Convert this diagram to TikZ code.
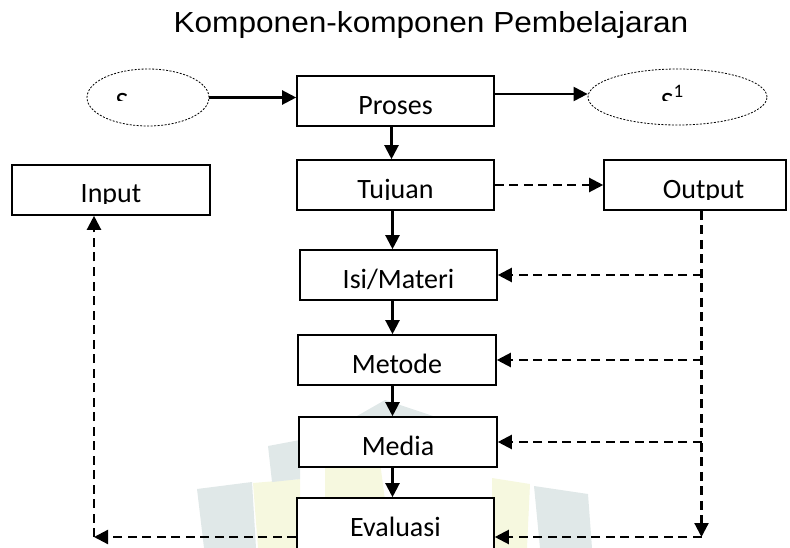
\documentclass[tikz,border=0pt]{standalone}
\usepackage{fontspec}
\setmainfont{Carlito}
\newfontfamily\titlefont{Liberation Sans}
\usetikzlibrary{arrows.meta,shapes.geometric}
\definecolor{wmgrey}{HTML}{E0E8E8}
\definecolor{wmyellow}{HTML}{F6F8DF}
\newcommand\cliplabel[4]{%
  \clip ([yshift=#1]path picture bounding box.south west) rectangle (path picture bounding box.north east);
  \node[lbl, anchor=base] at ([xshift=#3, yshift=#2]path picture bounding box.south) {#4};}
\begin{document}
\begin{tikzpicture}[x=1pt,y=-1pt,
  box/.style={draw, fill=white, line width=1.6pt, inner sep=0pt, minimum height=50pt},
  oval/.style={draw, ellipse, line width=0.8pt, dash pattern=on 2pt off 1.5pt, inner sep=0pt},
  lbl/.style={font=\fontsize{28}{30}\selectfont, inner sep=0pt},
  arr/.style={line width=2.2pt, -{Triangle[length=14pt,width=14pt]}},
  darr/.style={arr, dash pattern=on 9pt off 5.5pt},
  wmg/.style={fill=wmgrey, draw=none},
  wmy/.style={fill=wmyellow, draw=none}
]
\useasboundingbox (0,0) rectangle (790,548);
% faint watermark in the background
\fill[wmg] (197,489) -- (252,482) -- (256,548) -- (204,548) -- cycle;
\fill[wmy] (253,483) -- (300,479) -- (300,548) -- (258,548) -- cycle;
\fill[wmg] (268,446) -- (300,440) -- (300,479) -- (272,482) -- cycle;
\fill[wmg] (350,420) -- (385,400) -- (445,420) -- cycle;
\fill[wmy] (325,465) -- (380,462) -- (385,500) -- (325,500) -- cycle;
\fill[wmy] (492,478) -- (530,484) -- (527,548) -- (492,548) -- cycle;
\fill[wmg] (534,486) -- (588,494) -- (592,548) -- (540,548) -- cycle;

\node[font=\titlefont\fontsize{29}{32}\selectfont, anchor=base, xscale=1.09, inner sep=0pt] (title) at (431,32.3) {Komponen-komponen Pembelajaran};

\node[oval, minimum width=122pt, minimum height=57pt, path picture={\cliplabel{25pt}{14pt}{-26pt}{S}}] (s) at (148,97.5) {};
\node[oval, minimum width=179pt, minimum height=56pt, path picture={\cliplabel{24pt}{13pt}{-5.5pt}{S\raisebox{14pt}{\fontsize{19}{20}\selectfont 1}}}] (s1) at (677.5,97) {};

\node[box, minimum width=197pt, path picture={\cliplabel{10.5pt}{11.5pt}{0pt}{Proses}}] (proses) at (395.5,101) {};
\node[box, minimum width=197pt, path picture={\cliplabel{10.5pt}{11.5pt}{0pt}{Tujuan}}] (tujuan) at (395.5,185) {};
\node[box, minimum width=198pt, path picture={\cliplabel{11.5pt}{12pt}{0pt}{Input}}] (input) at (111,190) {};
\node[box, minimum width=182pt, path picture={\cliplabel{10.5pt}{11.5pt}{8.5pt}{Output}}] (output) at (695,185) {};
\node[box, minimum width=197pt, path picture={\cliplabel{10.5pt}{11.5pt}{0pt}{Isi/Materi}}] (isi) at (398.5,275) {};
\node[box, minimum width=198pt, path picture={\cliplabel{10.5pt}{11.5pt}{0pt}{Metode}}] (metode) at (397,360) {};
\node[box, minimum width=198pt, path picture={\cliplabel{10.5pt}{11.5pt}{0pt}{Media}}] (media) at (398,442) {};
\node[box, minimum width=197pt, minimum height=51pt, path picture={\cliplabel{10.5pt}{12.5pt}{0pt}{Evaluasi}}] (evaluasi) at (395.5,523.5) {};

% solid connectors
\draw[arr] (s.east) -- (s.east -| proses.west);
\coordinate (p1) at ([yshift=7pt]proses.east);
\draw[arr] (p1) -- (p1 -| s1.west);
\coordinate (cx) at (391.5,0);
\coordinate (cy) at (392.5,0);
\draw[arr] (cx |- proses.south) -- (cx |- tujuan.north);
\draw[arr] (cy |- tujuan.south) -- (cy |- isi.north);
\draw[arr] (cy |- isi.south) -- (cy |- metode.north);
\draw[arr] (cy |- metode.south) -- (cy |- media.north);
\draw[arr] (cy |- media.south) -- (cy |- evaluasi.north);

% dashed connectors
\draw[darr] (tujuan.east) -- (output.west);
\coordinate (rx) at (701.5,0);
\coordinate (by) at (0,537);
\draw[darr] (rx |- output.south) -- (rx |- by);
\draw[darr] (rx |- isi.east) -- (isi.east);
\draw[darr] (rx |- metode.east) -- (metode.east);
\draw[darr] (rx |- media.east) -- (media.east);
\draw[darr] (rx |- by) -- (by -| evaluasi.east);
\coordinate (lc) at (94,537);
\draw[darr] (by -| evaluasi.west) -- (lc);
\draw[darr] (lc) -- (lc |- input.south);
\end{tikzpicture}
\end{document}
